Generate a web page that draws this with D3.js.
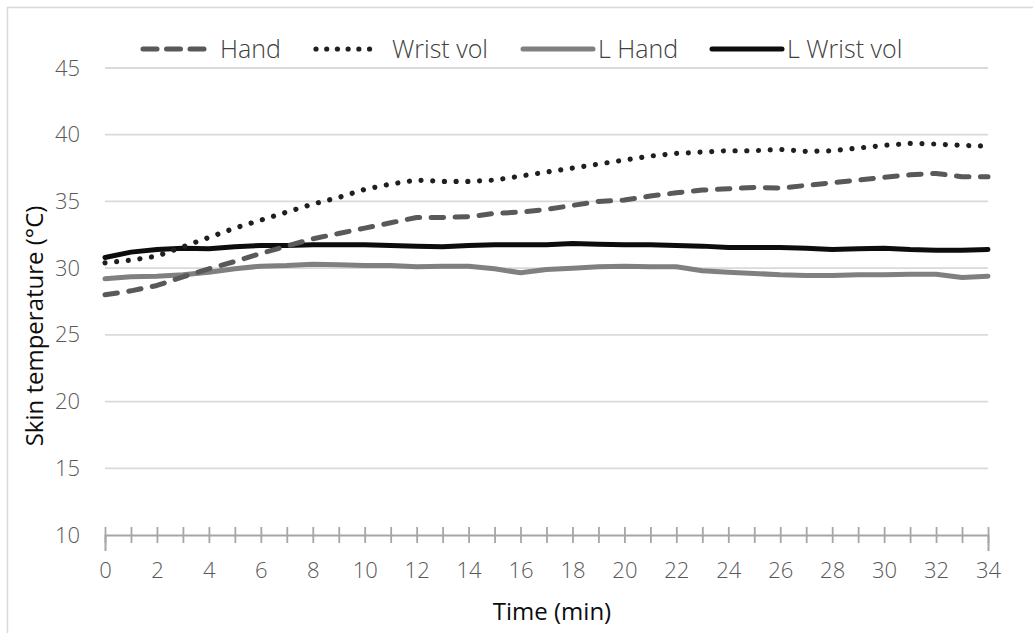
<!DOCTYPE html>
<html>
<head>
<meta charset="utf-8">
<script src="https://cdn.jsdelivr.net/npm/d3@7"></script>
<style>
  html, body { margin: 0; padding: 0; background: #fff; }
  svg { display: block; }
  text { font-family: "Segoe UI", "Open Sans", "Lato", sans-serif; }
</style>
</head>
<body>
<svg id="chart" width="1033" height="633"></svg>
<script>
const times = [0,1,2,3,4,5,6,7,8,9,10,11,12,13,14,15,16,17,18,19,20,21,22,23,24,25,26,27,28,29,30,31,32,33,34];
const hand = [28.0,28.3,28.7,29.35,29.95,30.5,31.1,31.65,32.2,32.6,33.0,33.4,33.8,33.8,33.85,34.1,34.2,34.4,34.7,35.0,35.1,35.4,35.65,35.85,35.95,36.05,36.0,36.2,36.4,36.6,36.8,37.0,37.1,36.85,36.85];
const wristVol = [30.4,30.6,30.9,31.6,32.3,33.0,33.6,34.2,34.8,35.3,35.9,36.3,36.6,36.5,36.5,36.6,36.9,37.2,37.5,37.8,38.1,38.4,38.6,38.7,38.8,38.8,38.9,38.75,38.8,39.0,39.2,39.35,39.3,39.2,39.15];
const lHand = [29.2,29.35,29.4,29.5,29.7,29.95,30.15,30.2,30.3,30.25,30.2,30.2,30.1,30.15,30.15,29.95,29.65,29.9,30.0,30.1,30.15,30.1,30.1,29.8,29.7,29.6,29.5,29.45,29.45,29.5,29.5,29.55,29.55,29.3,29.4];
const lWristVol = [30.8,31.2,31.4,31.5,31.45,31.6,31.7,31.7,31.75,31.75,31.75,31.7,31.65,31.6,31.7,31.75,31.75,31.75,31.85,31.8,31.75,31.75,31.7,31.65,31.55,31.55,31.55,31.5,31.4,31.45,31.5,31.4,31.35,31.35,31.4];
const yTicks = [10,15,20,25,30,35,40,45];
const xLabelTicks = [0,2,4,6,8,10,12,14,16,18,20,22,24,26,28,30,32,34];
const seriesNames = ["Hand","Wrist vol","L Hand","L Wrist vol"];
const xTitle = "Time (min)";
const yTitle = "Skin temperature (°C)";

const seriesData = [hand, wristVol, lHand, lWristVol];
const styles = [
  {color:"#595959", width:5, dash:"12.5 11.5", cap:"round"},
  {color:"#1f1f1f", width:5.2, dash:"0.01 11.7", cap:"round"},
  {color:"#808080", width:5, dash:null, cap:"round"},
  {color:"#0d0d0d", width:5, dash:null, cap:"round"}
];

const svg = d3.select("#chart");
const x = d3.scaleLinear().domain([0,34]).range([105,988]);
const y = d3.scaleLinear().domain([10,45]).range([535,68]);

// outer border
svg.append("rect").attr("x",7.5).attr("y",7.5).attr("width",1040).attr("height",640)
  .attr("fill","#fff").attr("stroke","#d9d9d9").attr("stroke-width",1.5);

// gridlines
svg.append("g").selectAll("line").data(yTicks.filter(d=>d>10)).join("line")
  .attr("x1",x(0)).attr("x2",x(34)).attr("y1",d=>y(d)).attr("y2",d=>y(d))
  .attr("stroke","#d9d9d9").attr("stroke-width",1.8);

// y axis (labels only)
const yAxis = svg.append("g").attr("transform",`translate(${x(0)},0)`)
  .call(d3.axisLeft(y).tickValues(yTicks).tickSize(0).tickPadding(25).tickFormat(d3.format("d")));
yAxis.select(".domain").remove();
yAxis.selectAll("text").attr("fill","#595959").style("font-size","22px").style("font-weight","300");

// x axis
const xAxis = svg.append("g").attr("transform",`translate(0,${y(10)})`)
  .call(d3.axisBottom(x).tickValues(times).tickSize(16).tickPadding(12)
    .tickFormat(d => xLabelTicks.includes(d) ? d : ""));
xAxis.select(".domain").attr("stroke","#a6a6a6").attr("stroke-width",2);
xAxis.selectAll(".tick line").attr("stroke","#a6a6a6").attr("stroke-width",1.8).attr("y1",-8).attr("y2",8);
xAxis.selectAll("text").attr("fill","#595959").style("font-size","22px").style("font-weight","300").attr("y",27);

// lines
const line = d3.line().x((d,i)=>x(times[i])).y(d=>y(d)).curve(d3.curveLinear);
const order = [2,3,0,1];
order.forEach(k => {
  const s = styles[k];
  svg.append("path").datum(seriesData[k])
    .attr("d", line)
    .attr("fill","none")
    .attr("stroke", s.color)
    .attr("stroke-width", s.width)
    .attr("stroke-linecap", s.cap)
    .attr("stroke-linejoin","round")
    .attr("stroke-dasharray", s.dash);
});

// legend
const legendPos = [
  {x1:143, x2:209, tx:220},
  {x1:316, x2:380, tx:392},
  {x1:523, x2:593, tx:598},
  {x1:712, x2:782, tx:787}
];
const leg = svg.append("g");
seriesNames.forEach((name,k) => {
  const p = legendPos[k], s = styles[k];
  leg.append("line").attr("x1",p.x1).attr("x2",p.x2).attr("y1",49).attr("y2",49)
    .attr("stroke",s.color).attr("stroke-width",s.width).attr("stroke-linecap",s.cap)
    .attr("stroke-dasharray", k===0 ? "14 9.5" : (k===1 ? "0.01 10.7" : null));
  leg.append("text").attr("x",p.tx).attr("y",58).text(name)
    .attr("fill","#404040").style("font-size","25px").style("font-weight","300");
});

// axis titles
svg.append("text").attr("x",552).attr("y",620).attr("text-anchor","middle")
  .text(xTitle).attr("fill","#0d0d0d").style("font-size","24px");
svg.append("text").attr("transform","translate(43,326) rotate(-90)").attr("text-anchor","middle")
  .text(yTitle).attr("fill","#0d0d0d").style("font-size","24px");
</script>
</body>
</html>
